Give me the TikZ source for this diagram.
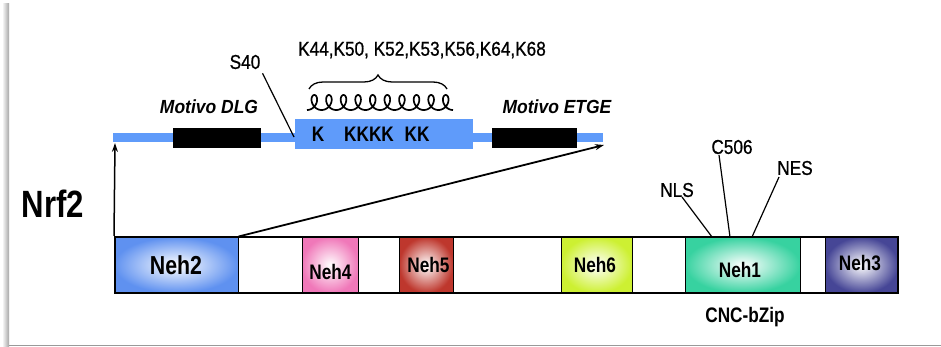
\documentclass[tikz,border=0pt]{standalone}
\usepackage{fontspec}
\setmainfont{Liberation Sans}
\newfontfamily\thinf[FakeStretch=0.86,FakeBold=0.8]{Liberation Sans}
\newfontfamily\boldf[FakeStretch=0.82]{Liberation Sans Bold}
\newfontfamily\bitf[FakeStretch=0.92]{Liberation Sans Bold Italic}
\usetikzlibrary{arrows.meta,decorations.pathreplacing}
\definecolor{barblue}{RGB}{95,155,250}
\definecolor{c2}{RGB}{95,145,240}
\definecolor{c4}{RGB}{240,120,185}
\definecolor{c5}{RGB}{190,55,45}
\definecolor{c6}{RGB}{205,240,50}
\definecolor{c1}{RGB}{55,210,160}
\definecolor{c3}{RGB}{70,70,150}
\tikzset{
  thinlab/.style={inner sep=0pt, font=\thinf\fontsize{20}{22}\selectfont},
  nehbox/.style={draw=black, line width=1pt, minimum height=56, inner sep=0pt, inner color=white, outer color=#1},
  nehlab/.style={inner sep=0pt, font=\boldf\fontsize{21}{23}\selectfont},
  motlab/.style={inner sep=0pt, font=\bitf\fontsize{19}{21}\selectfont},
  kk/.style={inner sep=0pt, font=\boldf\fontsize{21}{23}\selectfont},
  ptr/.style={line width=1.2pt},
  arr/.style={line width=1.8pt, -{Stealth[length=9pt, width=6pt]}},
  blackbox/.style={fill=black, draw=none, minimum height=20, inner sep=0pt},
}
\begin{document}
\begin{tikzpicture}[x=1pt,y=-1pt]
\useasboundingbox (0,0) rectangle (941,347);
\fill[white] (0,0) rectangle (941,347);
% shadow frame
\shade[left color=white, right color=black!35] (2,4) rectangle (9,346);
\draw[black!40, line width=1.5pt] (9,345.5) -- (941,345.5);

% upper structure
\node[fill=barblue, minimum width=490, minimum height=9, inner sep=0pt] (thin) at (358,137.5) {};
\node[fill=barblue, minimum width=178, minimum height=30, inner sep=0pt] (wide) at (384,134) {};
\node[blackbox, minimum width=88] (dlg) at (217,138) {};
\node[blackbox, minimum width=85] (etge) at (534.5,138) {};
\node[kk] (k1) at (318,134) {K};
\node[kk] (k2) at (369,134) {KKKK};
\node[kk] (k3) at (417,134) {KK};
\node[motlab] (mdlg) at (209,107) {Motivo DLG};
\node[motlab] (metge) at (557,107) {Motivo ETGE};
\node[thinlab] (klist) at (422,50) {K44,K50, K52,K53,K56,K64,K68};
\node[thinlab] (s40) at (245,62) {S40};
\coordinate (s40end) at (294,137);
\draw[ptr] (s40.south east) ++(2,4) -- (s40end);
% coil
\draw[line width=1.7pt, line join=round] plot[domain=-pi:19*pi, samples=600, variable=\t]
  ({314.3+2.324*\t - 6*sin(\t r)}, {102.5-7.5*cos(\t r)});
% brace
\draw[line width=1.3pt, decorate, decoration={brace, amplitude=14pt}] (309,89) -- (447,89);

% main bar
\node[nehbox=c2, minimum width=124] (neh2) at (176,265) {};
\node[nehbox=c4, minimum width=56] (neh4) at (330,265) {};
\node[nehbox=c5, minimum width=54] (neh5) at (426,265) {};
\node[nehbox=c6, minimum width=71] (neh6) at (596.5,265) {};
\node[nehbox=c1, minimum width=115] (neh1) at (742.5,265) {};
\node[nehbox=c3, minimum width=73] (neh3) at (861.5,265) {};
\node[draw=black, line width=2pt, minimum width=783, minimum height=56, inner sep=0pt] (bar) at (506.5,265) {};
\node[nehlab, font=\boldf\fontsize{26}{28}\selectfont] (l2) at (176,265) {Neh2};
\node[nehlab] (l4) at (330.5,272) {Neh4};
\node[nehlab] (l5) at (428.5,265) {Neh5};
\node[nehlab] (l6) at (595,265) {Neh6};
\node[nehlab] (l1) at (740,270) {Neh1};
\node[nehlab] (l3) at (860,263) {Neh3};
\node[inner sep=0pt, font=\boldf\fontsize{21}{23}\selectfont] (cnc) at (745,317) {CNC-bZip};
\node[inner sep=0pt, font=\boldf\fontsize{38}{40}\selectfont] (nrf2) at (53,204) {Nrf2};

% labels on Neh1
\node[thinlab] (nls) at (677,190) {NLS};
\node[thinlab] (c506) at (732,147) {C506};
\node[thinlab] (nes) at (795,168) {NES};
\draw[ptr] (682,197) -- (712,237);
\draw[ptr] (719,155) -- (730,237);
\draw[ptr] (779,177) -- (752,237);

% arrows
\coordinate (uptip) at (115,143);
\coordinate (diagtip) at (604,145);
\draw[arr, line width=1.5pt] (bar.north west) -- (uptip);
\draw[arr] (neh2.north east) -- (diagtip);
\end{tikzpicture}
\end{document}
